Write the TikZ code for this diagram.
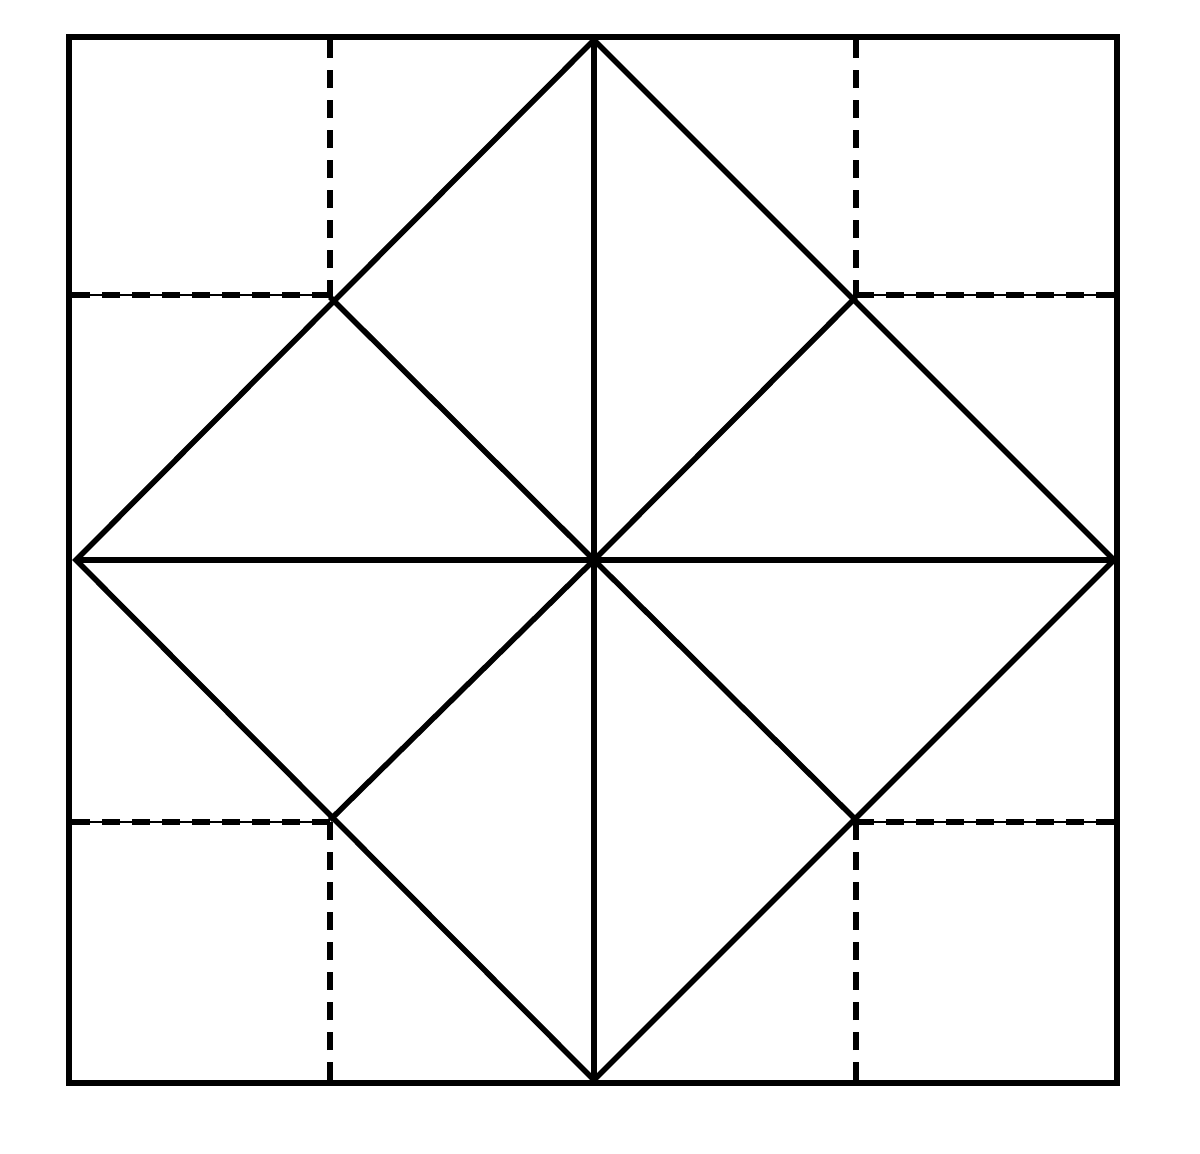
\documentclass[tikz,border=0pt]{standalone}
\begin{document}
\begin{tikzpicture}[x=0.01cm,y=-0.01cm,
  solidline/.style={line width=0.055cm,line cap=rect},
  foldline/.style={line width=0.055cm,dash pattern=on 0.18cm off 0.12cm},
  thinline/.style={line width=0.012cm}]
\useasboundingbox (0,0) rectangle (1200,1153);
\coordinate (TL) at (69,37);
\coordinate (TR) at (1117,37);
\coordinate (BR) at (1117,1083);
\coordinate (BL) at (69,1083);
\coordinate (T) at (594,40);
\coordinate (R) at (1114,560);
\coordinate (B) at (594,1080);
\coordinate (L) at (76,560);
\coordinate (C) at (594,560);
\coordinate (P1) at (330,297);
\coordinate (P2) at (856,297);
\coordinate (P3) at (330,820);
\coordinate (P4) at (856,820);
% thin guide lines under horizontal dashes
\draw[thinline] (69,295) -- (330,295);
\draw[thinline] (856,295) -- (1117,295);
\draw[thinline] (69,822) -- (330,822);
\draw[thinline] (856,822) -- (1117,822);
% dashed folds
\draw[foldline] (330,40) -- (P1);
\draw[foldline] (856,40) -- (P2);
\draw[foldline] (330,1080) -- (P3);
\draw[foldline] (856,1080) -- (P4);
\draw[foldline] (72,295) -- (330,295);
\draw[foldline] (856,295) -- (1114,295);
\draw[foldline] (72,822) -- (330,822);
\draw[foldline] (856,822) -- (1114,822);
% outer square
\draw[solidline] (TL) rectangle (BR);
% diamond
\draw[line width=0.055cm,line join=miter] (T) -- (R) -- (B) -- (L) -- cycle;
% center cross and diagonals
\draw[solidline,line cap=butt] (T) -- (B);
\draw[solidline,line cap=butt] (L) -- (R);
\draw[solidline,line cap=butt] (P1) -- (C) -- (P4);
\draw[solidline,line cap=butt] (P2) -- (C) -- (P3);
\end{tikzpicture}
\end{document}
